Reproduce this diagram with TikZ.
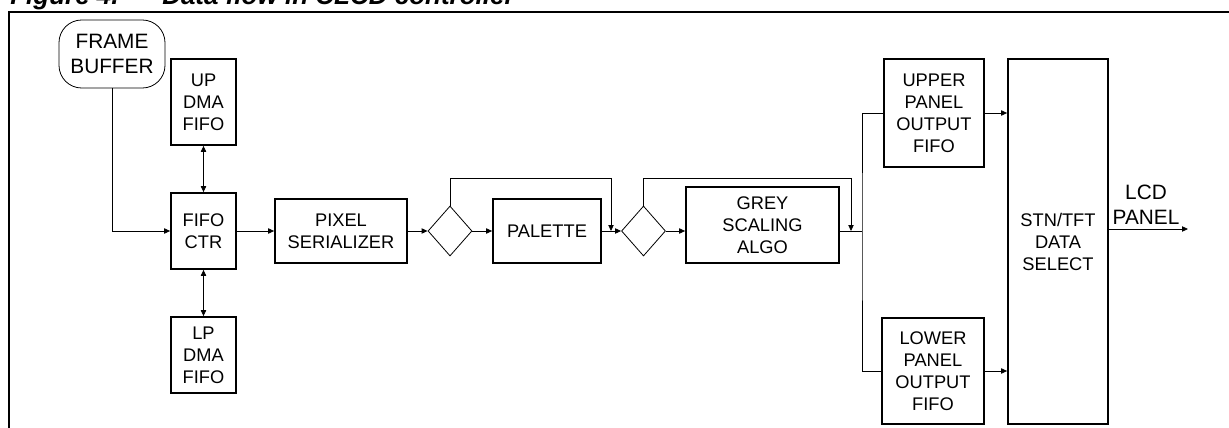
\documentclass[tikz,border=0pt]{standalone}
\usepackage{fontspec}
\setmainfont{Liberation Sans}
\usetikzlibrary{shapes.geometric}
\usetikzlibrary{arrows.meta}

\begin{document}
\begin{tikzpicture}[x=0.75pt,y=-0.75pt,
  blk/.style={rectangle,draw,line width=1.3pt,align=center,inner sep=0pt,font=\fontsize{13.7}{16.5}\selectfont},
  lbl/.style={align=center,inner sep=0pt,font=\fontsize{15.6}{19.1}\selectfont},
  sel/.style={diamond,draw,line width=0.6pt,inner sep=0pt,minimum width=33pt,minimum height=37.5pt},
  lnk/.style={line width=0.6pt},
  flow/.style={lnk,-{Triangle[length=4.5pt,width=4pt]}},
  dflow/.style={lnk,{Triangle[length=4.5pt,width=4pt]}-{Triangle[length=4.5pt,width=4pt]}}]
\useasboundingbox (0,0) rectangle (1229,428);
\draw[line width=2pt] (9,428) -- (9,12) -- (1229,12);
\node[inner sep=0pt,anchor=base west,font=\bfseries\itshape\fontsize{19.5}{22}\selectfont] (ttl) at (10,4.5) {\makebox[114pt][l]{Figure 4.}Data flow in CLCD controller};

\node[blk,lbl,draw,line width=0.6pt,rounded corners=17pt,minimum width=79.5pt,minimum height=51pt] (fb) at (112,54) {FRAME\\BUFFER};
\node[blk,minimum width=48.75pt,minimum height=64.5pt] (updma) at (203.5,102) {UP\\DMA\\FIFO};
\node[blk,minimum width=48.75pt,minimum height=57pt] (fifoctr) at (203.5,231) {FIFO\\CTR};
\node[blk,minimum width=48.75pt,minimum height=57pt] (lpdma) at (203.5,355) {LP\\DMA\\FIFO};
\node[blk,minimum width=99pt,minimum height=48pt] (pixser) at (341,231) {PIXEL\\SERIALIZER};
\node[sel] (sel1) at (450,231) {};
\node[blk,minimum width=81pt,minimum height=48pt] (pal) at (547,231) {PALETTE};
\node[sel] (sel2) at (643.5,231) {};
\node[blk,minimum width=114.75pt,minimum height=57pt] (grey) at (762.5,225) {GREY\\SCALING\\ALGO};
\node[blk,minimum width=75pt,minimum height=81pt] (upper) at (934,113) {UPPER\\PANEL\\OUTPUT\\FIFO};
\node[blk,minimum width=76.5pt,minimum height=79.5pt] (lower) at (933,371) {LOWER\\PANEL\\OUTPUT\\FIFO};
\node[blk,minimum width=75pt,minimum height=273.75pt] (stn) at (1058,241.5) {STN/TFT\\DATA\\SELECT};
\node[lbl] (lcd) at (1146,204.5) {LCD\\PANEL};

\coordinate (j1t) at (611,178);
\coordinate (j1) at (611,231);
\coordinate (j2t) at (851,178);
\coordinate (j2) at (851,231);
\coordinate (bus) at (862,231);
\coordinate (out) at (1188,229);

\draw[flow] (fb.south) |- (fifoctr.west);
\draw[dflow] (updma) -- (fifoctr);
\draw[dflow] (fifoctr) -- (lpdma);
\draw[flow] (fifoctr) -- (pixser);
\draw[flow] (pixser) -- (sel1);
\draw[flow] (sel1) -- (pal);
\draw[flow] (pal) -- (sel2);
\draw[flow] (sel2.east) -- (sel2.east -| grey.west);
\draw[flow] (sel1.north) |- (j1t) -- (j1);
\draw[flow] (sel2.north) |- (j2t) -- (j2);
\draw[lnk] (grey.east |- bus) -- (bus);
\draw[lnk] (upper.west) -| (bus) |- (lower.west);
\draw[flow] (upper.east) -- (upper.east -| stn.west);
\draw[flow] (lower.east) -- (lower.east -| stn.west);
\draw[flow] (stn.east |- out) -- (out);

\end{tikzpicture}
\end{document}
